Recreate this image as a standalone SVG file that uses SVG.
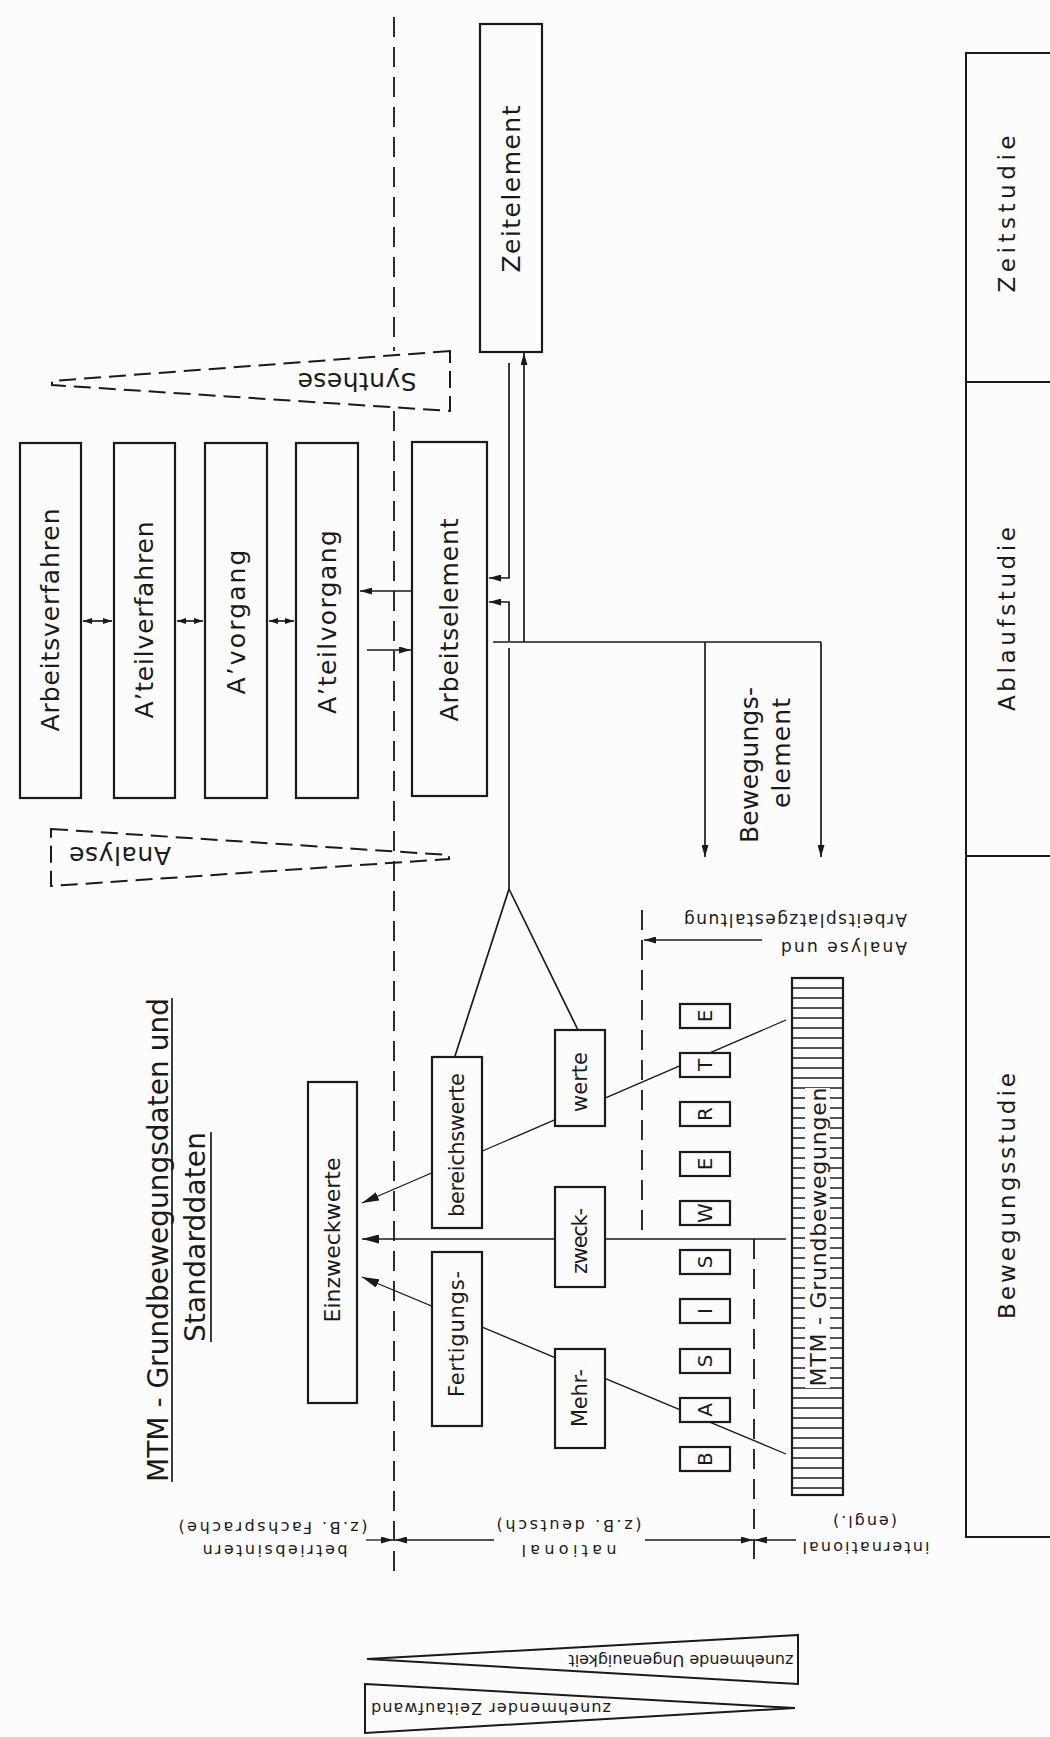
<svg xmlns="http://www.w3.org/2000/svg" width="1050" height="1737" viewBox="0 0 1050 1737">
<defs>
<style>
.bg{fill:#fbfcfb}
.box{fill:#fbfcfb;stroke:#1a1a1a;stroke-width:2.2}
.ln{fill:none;stroke:#1a1a1a;stroke-width:1.7}
.lt{fill:none;stroke:#1a1a1a;stroke-width:1.3}
.dash{fill:none;stroke:#1a1a1a;stroke-width:1.8;stroke-dasharray:20 10}
.dtri{fill:none;stroke:#1a1a1a;stroke-width:2;stroke-dasharray:17 8}
.t{font-family:"DejaVu Sans",sans-serif;fill:#1a1a1a;text-anchor:middle;dominant-baseline:central}
</style>
<marker id="a" viewBox="0 0 12 7" refX="12" refY="3.5" markerWidth="12" markerHeight="7" markerUnits="userSpaceOnUse" orient="auto-start-reverse"><path d="M0,0 L12,3.5 L0,7 z" fill="#1a1a1a"/></marker>
<marker id="as" viewBox="0 0 9 6" refX="9" refY="3" markerWidth="9" markerHeight="6" markerUnits="userSpaceOnUse" orient="auto-start-reverse"><path d="M0,0 L9,3 L0,6 z" fill="#1a1a1a"/></marker>
<marker id="ab" viewBox="0 0 17 9" refX="17" refY="4.5" markerWidth="17" markerHeight="9" markerUnits="userSpaceOnUse" orient="auto-start-reverse"><path d="M0,0 L17,4.5 L0,9 z" fill="#1a1a1a"/></marker>
<pattern id="hatch" x="0" y="973" width="60" height="10" patternUnits="userSpaceOnUse"><line x1="0" y1="5" x2="60" y2="5" stroke="#1a1a1a" stroke-width="1.3"/></pattern>
</defs>
<rect class="bg" x="0" y="0" width="1050" height="1737"/>

<g id="boundaries">
<path class="dash" d="M394,17 V351 M394,411 V1573"/>
<path class="dash" d="M642,910 V1237"/>
<path class="dash" d="M754,1239 V1567"/>
</g>

<g id="connectors">
<path class="ln" d="M83,621 H112" marker-start="url(#as)" marker-end="url(#as)"/>
<path class="ln" d="M177,621 H203" marker-start="url(#as)" marker-end="url(#as)"/>
<path class="ln" d="M269,621 H294" marker-start="url(#as)" marker-end="url(#as)"/>
<path class="ln" d="M412,591 H360" marker-end="url(#a)"/>
<path class="ln" d="M367,650 H411" marker-end="url(#a)"/>
<path class="ln" d="M509,363 V578 H489" marker-end="url(#a)"/>
<path class="ln" d="M509,641 V602 H489" marker-end="url(#a)"/>
<path class="ln" d="M524,642 V353" marker-end="url(#a)"/>
<path class="ln" d="M493,642 H821"/>
<path class="ln" d="M705,642 V857" marker-end="url(#a)"/>
<path class="ln" d="M821,642 V857" marker-end="url(#a)"/>
<path class="ln" d="M509,648 V889 L455,1056 M509,889 L578,1030"/>
<path class="lt" d="M786,1020 L362,1203" marker-end="url(#ab)"/>
<path class="lt" d="M786,1239 H362" marker-end="url(#ab)"/>
<path class="lt" d="M786,1454 L362,1277" marker-end="url(#ab)"/>
<path class="lt" d="M762,940 H644" marker-end="url(#a)"/>
<path class="lt" d="M366,1540 H393" marker-end="url(#a)"/>
<path class="lt" d="M494,1540 H395" marker-end="url(#a)"/>
<path class="lt" d="M645,1540 H753" marker-end="url(#a)"/>
<path class="lt" d="M796,1540 H755" marker-end="url(#a)"/>
</g>

<g id="n-zeitelement"><rect class="box" x="480" y="24" width="62" height="328"/><text class="t" x="511" y="189" font-size="25" textLength="167" lengthAdjust="spacing" transform="rotate(-90 511 189)">Zeitelement</text></g>
<g id="n-arbeitsverfahren"><rect class="box" x="20" y="443" width="61" height="355"/><text class="t" x="50.5" y="620" font-size="25" textLength="223" lengthAdjust="spacing" transform="rotate(-90 50.5 620)">Arbeitsverfahren</text></g>
<g id="n-ateilverfahren"><rect class="box" x="114" y="443" width="61" height="355"/><text class="t" x="144.5" y="620" font-size="25" textLength="197" lengthAdjust="spacing" transform="rotate(-90 144.5 620)">A’teilverfahren</text></g>
<g id="n-avorgang"><rect class="box" x="205" y="443" width="62" height="355"/><text class="t" x="236" y="622" font-size="25" textLength="145" lengthAdjust="spacing" transform="rotate(-90 236 622)">A’vorgang</text></g>
<g id="n-ateilvorgang"><rect class="box" x="296" y="443" width="62" height="355"/><text class="t" x="327" y="622" font-size="25" textLength="184" lengthAdjust="spacing" transform="rotate(-90 327 622)">A’teilvorgang</text></g>
<g id="n-arbeitselement"><rect class="box" x="412" y="442" width="75" height="354"/><text class="t" x="449.5" y="620" font-size="25" textLength="203" lengthAdjust="spacing" transform="rotate(-90 449.5 620)">Arbeitselement</text></g>

<g id="n-synthese"><polygon class="dtri" points="450,351 52,381 52,385 450,411"/><text class="t" x="357" y="381" font-size="25" textLength="119" lengthAdjust="spacing" transform="rotate(180 357 381)">Synthese</text></g>
<g id="n-analyse"><polygon class="dtri" points="51,829 449,855 449,859 51,886"/><text class="t" x="120" y="855" font-size="25" textLength="102" lengthAdjust="spacing" transform="rotate(180 120 855)">Analyse</text></g>

<g id="title">
<text class="t" x="158" y="1240" font-size="28" textLength="484" lengthAdjust="spacing" transform="rotate(-90 158 1240)">MTM - Grundbewegungsdaten und</text>
<line class="ln" x1="172" y1="998" x2="172" y2="1482"/>
<text class="t" x="195" y="1237" font-size="28" textLength="210" lengthAdjust="spacing" transform="rotate(-90 195 1237)">Standarddaten</text>
<line class="ln" x1="211" y1="1132" x2="211" y2="1342"/>
</g>

<g id="n-einzweckwerte"><rect class="box" x="308" y="1082" width="49" height="321"/><text class="t" x="332.5" y="1240" font-size="22" textLength="165" lengthAdjust="spacing" transform="rotate(-90 332.5 1240)">Einzweckwerte</text></g>
<g id="n-bereichswerte"><rect class="box" x="432" y="1057" width="50" height="171"/><text class="t" x="457" y="1145" font-size="21" textLength="144" lengthAdjust="spacing" transform="rotate(-90 457 1145)">bereichswerte</text></g>
<g id="n-fertigungs"><rect class="box" x="432" y="1252" width="50" height="174"/><text class="t" x="457" y="1334" font-size="21" textLength="126" lengthAdjust="spacing" transform="rotate(-90 457 1334)">Fertigungs-</text></g>
<g id="n-werte"><rect class="box" x="555" y="1030" width="50" height="96"/><text class="t" x="580" y="1082" font-size="21" textLength="60" lengthAdjust="spacing" transform="rotate(-90 580 1082)">werte</text></g>
<g id="n-zweck"><rect class="box" x="555" y="1187" width="50" height="100"/><text class="t" x="580" y="1241" font-size="21" textLength="66" lengthAdjust="spacing" transform="rotate(-90 580 1241)">zweck-</text></g>
<g id="n-mehr"><rect class="box" x="555" y="1349" width="50" height="99"/><text class="t" x="580" y="1398" font-size="21" textLength="58" lengthAdjust="spacing" transform="rotate(-90 580 1398)">Mehr-</text></g>

<g id="n-basiswerte">
<rect class="box" x="680" y="1004" width="50" height="24"/><text class="t" x="705" y="1016" font-size="20" transform="rotate(-90 705 1016)">E</text>
<rect class="box" x="680" y="1053" width="50" height="24"/><text class="t" x="705" y="1065" font-size="20" transform="rotate(-90 705 1065)">T</text>
<rect class="box" x="680" y="1102" width="50" height="24"/><text class="t" x="705" y="1114" font-size="20" transform="rotate(-90 705 1114)">R</text>
<rect class="box" x="680" y="1152" width="50" height="24"/><text class="t" x="705" y="1164" font-size="20" transform="rotate(-90 705 1164)">E</text>
<rect class="box" x="680" y="1201" width="50" height="24"/><text class="t" x="705" y="1213" font-size="20" transform="rotate(-90 705 1213)">W</text>
<rect class="box" x="680" y="1250" width="50" height="24"/><text class="t" x="705" y="1262" font-size="20" transform="rotate(-90 705 1262)">S</text>
<rect class="box" x="680" y="1299" width="50" height="24"/><text class="t" x="705" y="1311" font-size="20" transform="rotate(-90 705 1311)">I</text>
<rect class="box" x="680" y="1349" width="50" height="24"/><text class="t" x="705" y="1361" font-size="20" transform="rotate(-90 705 1361)">S</text>
<rect class="box" x="680" y="1398" width="50" height="24"/><text class="t" x="705" y="1410" font-size="20" transform="rotate(-90 705 1410)">A</text>
<rect class="box" x="680" y="1447" width="50" height="24"/><text class="t" x="705" y="1459" font-size="20" transform="rotate(-90 705 1459)">B</text>
</g>

<g id="n-mtm-grundbewegungen">
<rect class="bg" x="792" y="978" width="51" height="517"/>
<rect x="792" y="978" width="51" height="110" fill="url(#hatch)"/>
<rect x="792" y="1388" width="51" height="107" fill="url(#hatch)"/>
<rect x="792" y="1088" width="13" height="300" fill="url(#hatch)"/>
<rect x="830" y="1088" width="13" height="300" fill="url(#hatch)"/>
<rect x="792" y="978" width="51" height="517" fill="none" stroke="#1a1a1a" stroke-width="2.2"/>
<text class="t" x="818" y="1237" font-size="22" textLength="299" lengthAdjust="spacing" transform="rotate(-90 818 1237)">MTM - Grundbewegungen</text>
</g>

<g id="n-bewegungselement">
<text class="t" x="749" y="765" font-size="25" textLength="156" lengthAdjust="spacing" transform="rotate(-90 749 765)">Bewegungs-</text>
<text class="t" x="781" y="753" font-size="25" textLength="110" lengthAdjust="spacing" transform="rotate(-90 781 753)">element</text>
</g>

<g id="label-analyse-arbeitsplatz">
<text class="t" x="844" y="948" font-size="17" textLength="126" lengthAdjust="spacing" transform="rotate(180 844 948)">Analyse und</text>
<text class="t" x="795.5" y="920" font-size="17" textLength="223" lengthAdjust="spacing" transform="rotate(180 795.5 920)">Arbeitsplatzgestaltung</text>
</g>

<g id="labels-levels">
<text class="t" x="275" y="1550" font-size="16" textLength="145" lengthAdjust="spacing" transform="rotate(180 275 1550)">betriebsintern</text>
<text class="t" x="273" y="1527" font-size="16" textLength="189" lengthAdjust="spacing" transform="rotate(180 273 1527)">(z.B. Fachsprache)</text>
<text class="t" x="569" y="1550" font-size="16" textLength="95" lengthAdjust="spacing" transform="rotate(180 569 1550)">national</text>
<text class="t" x="569" y="1525" font-size="16" textLength="145" lengthAdjust="spacing" transform="rotate(180 569 1525)">(z.B. deutsch)</text>
<text class="t" x="866" y="1547" font-size="16" textLength="127" lengthAdjust="spacing" transform="rotate(180 866 1547)">international</text>
<text class="t" x="865" y="1521" font-size="16" textLength="64" lengthAdjust="spacing" transform="rotate(180 865 1521)">(engl.)</text>
</g>

<g id="n-ungenauigkeit"><polygon fill="none" stroke="#1a1a1a" stroke-width="2" points="798,1635 367,1659 798,1684"/><text class="t" x="681" y="1660" font-size="16" textLength="225" lengthAdjust="spacing" transform="rotate(180 681 1660)">zunehmende Ungenauigkeit</text></g>
<g id="n-zeitaufwand"><polygon fill="none" stroke="#1a1a1a" stroke-width="2" points="365,1684 795,1708 365,1733"/><text class="t" x="491" y="1708" font-size="16" textLength="240" lengthAdjust="spacing" transform="rotate(180 491 1708)">zunehmender Zeitaufwand</text></g>

<g id="n-studien">
<path fill="none" stroke="#1a1a1a" stroke-width="2" d="M1052,53 H966 V1537 H1052 M966,382 H1052 M966,856 H1052"/>
<text class="t" x="1007" y="214" font-size="23" textLength="157" lengthAdjust="spacing" transform="rotate(-90 1007 214)">Zeitstudie</text>
<text class="t" x="1007" y="619" font-size="23" textLength="184" lengthAdjust="spacing" transform="rotate(-90 1007 619)">Ablaufstudie</text>
<text class="t" x="1007" y="1196" font-size="23" textLength="246" lengthAdjust="spacing" transform="rotate(-90 1007 1196)">Bewegungsstudie</text>
</g>
</svg>
